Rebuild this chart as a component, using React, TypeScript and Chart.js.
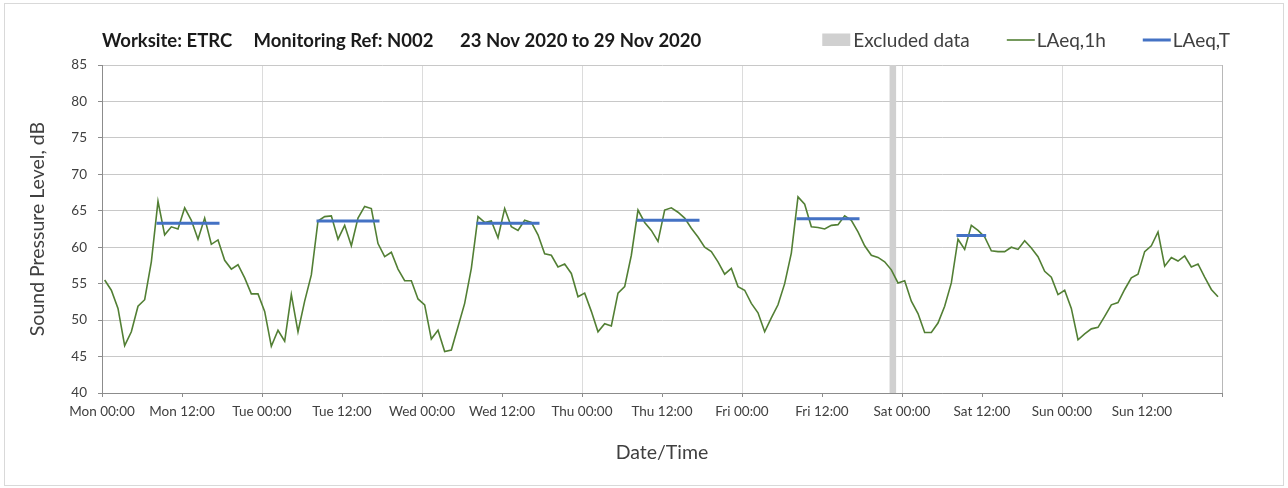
import React, { useEffect, useRef } from 'react';
import { Chart, registerables } from 'chart.js';

Chart.register(...registerables);

// ---------- data ----------
const chartTitleParts = ['Worksite: ETRC', 'Monitoring Ref: N002', '23 Nov 2020 to 29 Nov 2020'];
const xTickLabels = [
  'Mon 00:00', 'Mon 12:00', 'Tue 00:00', 'Tue 12:00', 'Wed 00:00', 'Wed 12:00', 'Thu 00:00',
  'Thu 12:00', 'Fri 00:00', 'Fri 12:00', 'Sat 00:00', 'Sat 12:00', 'Sun 00:00', 'Sun 12:00',
];
const xAxisTitle = 'Date/Time';
const yAxisTitle = 'Sound Pressure Level, dB';
const hoursPerTick = 12;
const hoursPerDay = 24;
const weekHours = 168;
const yMin = 40;
const yMax = 85;
const yStep = 5;

// hourly LAeq,1h values (dB), one array per day, 00:00 .. 23:00
const laeq1hMon = [55.5, 54.1, 51.6, 46.5, 48.4, 51.9, 52.8, 58.0, 66.3, 61.7, 62.8, 62.5, 65.4, 63.7, 61.1, 64.0, 60.4, 61.0, 58.2, 57.0, 57.6, 55.8, 53.6, 53.6];
const laeq1hTue = [51.2, 46.4, 48.6, 47.1, 53.5, 48.4, 52.6, 56.2, 63.6, 64.2, 64.3, 61.1, 63.0, 60.2, 64.0, 65.6, 65.3, 60.5, 58.7, 59.3, 57.0, 55.4, 55.4, 52.9];
const laeq1hWed = [52.1, 47.4, 48.6, 45.7, 45.9, 49.1, 52.3, 57.1, 64.2, 63.4, 63.6, 61.3, 65.3, 62.8, 62.3, 63.7, 63.4, 61.7, 59.1, 58.9, 57.3, 57.7, 56.4, 53.2];
const laeq1hThu = [53.7, 51.2, 48.4, 49.5, 49.2, 53.7, 54.6, 58.9, 65.1, 63.4, 62.3, 60.8, 65.1, 65.4, 64.8, 64.0, 62.6, 61.4, 60.0, 59.4, 58.0, 56.3, 57.1, 54.6];
const laeq1hFri = [54.1, 52.3, 51.0, 48.4, 50.3, 52.1, 55.0, 59.2, 66.9, 65.9, 62.8, 62.7, 62.5, 63.0, 63.1, 64.3, 63.7, 62.1, 60.2, 58.9, 58.6, 58.0, 56.9, 55.1];
const laeq1hSat = [55.4, 52.6, 50.9, 48.3, 48.3, 49.6, 51.9, 55.1, 61.1, 59.7, 63.0, 62.3, 61.4, 59.5, 59.4, 59.4, 60.0, 59.7, 60.9, 59.9, 58.7, 56.7, 55.9, 53.5];
const laeq1hSun = [54.1, 51.6, 47.3, 48.1, 48.8, 49.0, 50.5, 52.1, 52.4, 54.2, 55.8, 56.3, 59.4, 60.2, 62.1, 57.4, 58.6, 58.1, 58.8, 57.3, 57.7, 55.9, 54.2, 53.2];
const laeq1h = [...laeq1hMon, ...laeq1hTue, ...laeq1hWed, ...laeq1hThu, ...laeq1hFri, ...laeq1hSat, ...laeq1hSun];
const sampleOffsetHours = 0.4;

// LAeq,T over the daytime period of each day
const periodDayIndex = [0, 1, 2, 3, 4, 5];
const periodStartHour = [8, 8, 8, 8, 8, 8];
const periodEndHour = [17, 17, 17, 17, 17, 12];
const laeqT = [63.3, 63.6, 63.3, 63.7, 63.9, 61.6];

// excluded data window (hours from Mon 00:00)
const excludedStartHour = 118.1;
const excludedEndHour = 119.15;

const seriesLabels = ['Excluded data', 'LAeq,1h', 'LAeq,T'];

// ---------- style ----------
const FONT = "Lato, 'Open Sans', 'DejaVu Sans', sans-serif";
const TEXT = '#404040';
const GREEN = '#527f34';
const BLUE = '#4472C4';
const BAND = '#d0d0d0';

const framePlugin = {
  id: 'frame',
  beforeDraw(chart: any) {
    const ctx = chart.ctx;
    ctx.save();
    ctx.fillStyle = '#ffffff';
    ctx.fillRect(0, 0, chart.width, chart.height);
    ctx.strokeStyle = '#d9d9d9';
    ctx.lineWidth = 1;
    ctx.strokeRect(4.5, 3.5, 1279, 482);
    ctx.restore();
  },
};

const headerPlugin = {
  id: 'header',
  afterDraw(chart: any) {
    const ctx = chart.ctx;
    ctx.save();
    // title
    ctx.font = `bold 18.5px ${FONT}`;
    ctx.fillStyle = '#1a1a1a';
    ctx.textAlign = 'left';
    ctx.textBaseline = 'alphabetic';
    const titleX = [102, 253.5, 460];
    chartTitleParts.forEach((t, i) => ctx.fillText(t, titleX[i], 46.5));

    // legend (right aligned)
    ctx.font = `19px ${FONT}`;
    const datasets = chart.data.datasets;
    let right = 1230;
    for (let k = datasets.length - 1; k >= 0; k--) {
      const ds = datasets[k];
      const w = ctx.measureText(ds.label).width;
      const textX = right - w;
      ctx.fillStyle = TEXT;
      ctx.fillText(ds.label, textX, 46.5);
      const isBox = !!ds.fill;
      const markerEnd = textX - (isBox ? 3 : 2);
      const markerStart = markerEnd - 28;
      if (isBox) {
        ctx.fillStyle = ds.backgroundColor;
        ctx.fillRect(markerStart, 33.5, 28, 12.5);
      } else {
        ctx.strokeStyle = ds.borderColor;
        ctx.lineWidth = ds.borderWidth;
        ctx.beginPath();
        ctx.moveTo(markerStart, 40);
        ctx.lineTo(markerEnd, 40);
        ctx.stroke();
      }
      right = markerStart - 37;
    }
    ctx.restore();
  },
};

export default function App() {
  const canvasRef = useRef<HTMLCanvasElement | null>(null);

  useEffect(() => {
    const canvas = canvasRef.current;
    if (!canvas) return;

    const hourlyPoints = laeq1h.map((v, i) => ({ x: i + sampleOffsetHours, y: v }));

    const periodPoints: { x: number; y: number | null }[] = [];
    periodDayIndex.forEach((d, k) => {
      const x0 = d * hoursPerDay + periodStartHour[k] + sampleOffsetHours;
      const x1 = d * hoursPerDay + periodEndHour[k] + sampleOffsetHours;
      periodPoints.push({ x: x0, y: laeqT[k] });
      periodPoints.push({ x: x1, y: laeqT[k] });
      periodPoints.push({ x: x1 + 0.5, y: null });
    });

    const bandPoints = [
      { x: excludedStartHour, y: yMax },
      { x: excludedEndHour, y: yMax },
    ];

    const chart = new Chart(canvas, {
      type: 'line',
      data: {
        datasets: [
          {
            label: seriesLabels[0],
            data: bandPoints,
            fill: 'start',
            backgroundColor: BAND,
            borderColor: 'rgba(0,0,0,0)',
            borderWidth: 0,
            pointRadius: 0,
            order: 3,
          } as any,
          {
            label: seriesLabels[1],
            data: hourlyPoints,
            borderColor: GREEN,
            backgroundColor: GREEN,
            borderWidth: 1.6,
            pointRadius: 0,
            tension: 0,
            fill: false,
            order: 2,
          },
          {
            label: seriesLabels[2],
            data: periodPoints,
            borderColor: BLUE,
            backgroundColor: BLUE,
            borderWidth: 3,
            borderCapStyle: 'square',
            pointRadius: 0,
            spanGaps: false,
            fill: false,
            order: 1,
          },
        ],
      },
      options: {
        responsive: false,
        animation: false,
        devicePixelRatio: 1,
        layout: { padding: { top: 65, right: 66, left: 0, bottom: 0 } },
        plugins: {
          legend: { display: false },
          title: { display: false },
          tooltip: { enabled: false },
        },
        scales: {
          x: {
            type: 'linear',
            min: 0,
            max: weekHours,
            offset: false,
            afterFit: (scale: any) => {
              scale.height = 95;
            },
            ticks: {
              stepSize: hoursPerTick,
              maxTicksLimit: 20,
              autoSkip: false,
              maxRotation: 0,
              minRotation: 0,
              padding: 6.5,
              color: TEXT,
              font: { family: FONT, size: 13.5 },
              callback: (value: any) => {
                const idx = Math.round(Number(value) / hoursPerTick);
                return xTickLabels[idx] ?? '';
              },
            },
            grid: {
              drawTicks: true,
              tickLength: 4,
              tickColor: '#8c8c8c',
              color: (ctx: any) => {
                const v = ctx.tick ? ctx.tick.value : -1;
                if (v === weekHours) return '#b8b8b8';
                return v % hoursPerDay === 0 ? '#dcdcdc' : 'rgba(0,0,0,0)';
              },
              lineWidth: 1,
            },
            border: { color: '#8c8c8c', width: 1 },
            title: {
              display: true,
              text: xAxisTitle,
              color: TEXT,
              font: { family: FONT, size: 19.5 },
              padding: { top: 0, bottom: 23.3 },
            },
          },
          y: {
            min: yMin,
            max: yMax,
            afterFit: (scale: any) => {
              scale.width = 102;
            },
            ticks: {
              stepSize: yStep,
              padding: 11,
              color: TEXT,
              font: { family: FONT, size: 13.5 },
            },
            grid: {
              drawTicks: true,
              tickLength: 4,
              tickColor: '#8c8c8c',
              color: '#c8c8c8',
              lineWidth: 1,
            },
            border: { color: '#8c8c8c', width: 1 },
            title: {
              display: true,
              text: yAxisTitle,
              color: TEXT,
              font: { family: FONT, size: 19.5 },
              padding: { top: 26.3, bottom: 0 },
            },
          },
        },
      },
      plugins: [framePlugin, headerPlugin],
    });

    return () => {
      chart.destroy();
    };
  }, []);

  return (
    <div style={{ position: 'absolute', left: 0, top: 0, width: 1288, height: 488 }}>
      <canvas ref={canvasRef} width={1288} height={488} style={{ display: 'block', width: 1288, height: 488 }} />
    </div>
  );
}
